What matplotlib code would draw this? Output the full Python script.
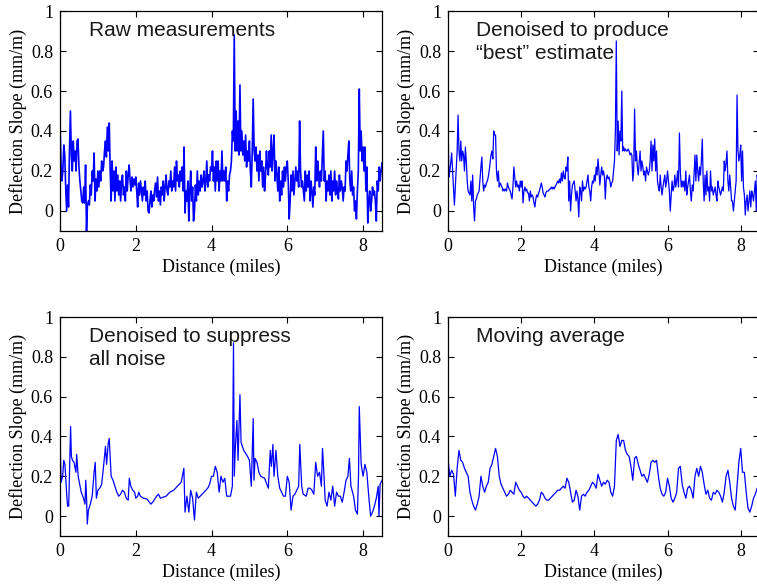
import numpy as np
import matplotlib
matplotlib.use("Agg")
import matplotlib.pyplot as plt

# --- data (deflection slope, mm/m) ---
# raw measurements, every 0.025 mile from 0 to 8.5
raw_slope = [
    0.45, 0.25, 0.15, 0.20, 0.33, 0.28, 0.12, 0.00, 0.13, 0.02, 0.30, 0.50, 0.28, 0.20, 0.35, 0.25, 0.30, 0.20, 0.35, 0.36,
    0.22, 0.15, 0.10, 0.05, 0.04, 0.12, 0.04, 0.23, -0.10, 0.03, 0.05, 0.03, 0.13, 0.08, 0.20, 0.15, 0.29, 0.05, 0.16, 0.10,
    0.20, 0.12, 0.20, 0.15, 0.25, 0.20, 0.22, 0.30, 0.35, 0.27, 0.42, 0.30, 0.44, 0.20, 0.05, 0.25, 0.10, 0.20, 0.05, 0.22,
    0.10, 0.18, 0.08, 0.15, 0.05, 0.15, 0.18, 0.08, 0.12, 0.05, 0.20, 0.10, 0.18, 0.23, 0.15, 0.10, 0.17, 0.12, 0.16, 0.13,
    0.17, 0.10, 0.02, 0.14, 0.08, 0.15, 0.10, 0.05, 0.12, 0.08, 0.15, 0.05, 0.10, 0.00, -0.01, 0.05, 0.10, 0.02, 0.08, 0.05,
    0.11, 0.14, 0.07, 0.17, 0.05, 0.10, 0.03, 0.12, 0.08, 0.15, 0.05, 0.12, 0.18, 0.10, 0.08, 0.15, 0.12, 0.20, 0.10, 0.15,
    0.12, 0.22, 0.10, 0.25, 0.15, 0.18, 0.12, 0.20, 0.15, 0.22, 0.10, 0.32, -0.01, 0.10, 0.05, 0.15, -0.05, 0.10, 0.20, 0.05,
    0.12, -0.05, 0.00, 0.13, 0.05, 0.20, 0.08, 0.15, 0.10, 0.18, 0.12, 0.15, 0.20, 0.10, 0.15, 0.25, 0.12, 0.18, 0.15, 0.22,
    0.20, 0.30, 0.15, 0.22, 0.10, 0.25, 0.15, 0.25, 0.10, 0.20, 0.15, 0.30, 0.15, 0.20, 0.15, 0.22, 0.05, 0.15, 0.10, 0.18,
    0.20, 0.25, 0.40, 0.35, 0.88, 0.30, 0.50, 0.30, 0.45, 0.28, 0.63, 0.30, 0.40, 0.28, 0.35, 0.25, 0.38, 0.22, 0.30, 0.25,
    0.35, 0.20, 0.12, 0.30, 0.56, 0.30, 0.25, 0.32, 0.20, 0.28, 0.15, 0.30, 0.20, 0.25, 0.12, 0.22, 0.10, 0.18, 0.30, 0.22,
    0.18, 0.30, 0.22, 0.38, 0.20, 0.30, 0.38, 0.15, 0.25, 0.18, 0.10, 0.22, 0.05, 0.15, 0.08, 0.20, 0.12, 0.22, 0.15, 0.22,
    0.25, 0.15, -0.04, 0.05, 0.18, 0.10, 0.20, 0.08, 0.15, 0.22, 0.15, 0.20, 0.12, 0.45, 0.20, 0.12, 0.15, 0.10, 0.05, 0.20,
    0.10, 0.18, 0.12, 0.20, 0.05, 0.15, 0.10, 0.02, 0.12, 0.08, 0.32, 0.15, 0.25, 0.18, 0.12, 0.20, 0.15, 0.28, 0.40, 0.15,
    0.20, 0.05, 0.15, 0.10, 0.18, 0.08, 0.20, 0.05, 0.15, 0.10, 0.20, 0.08, 0.15, 0.10, 0.06, 0.18, 0.10, 0.15, 0.12, 0.05,
    0.12, 0.10, 0.25, 0.20, 0.28, 0.35, 0.15, 0.10, 0.20, 0.08, 0.12, 0.00, 0.05, -0.04, 0.10, 0.20, 0.61, 0.30, 0.40, 0.25,
    0.32, 0.20, 0.32, 0.10, 0.22, -0.06, 0.05, 0.10, 0.00, 0.05, 0.12, 0.08, 0.10, 0.05, -0.05, 0.15, 0.10, 0.22, 0.15, 0.20,
    0.24,
]

# "best" estimate, same 0.025 mile spacing
best_slope = [
    0.45, 0.17, 0.20, 0.24, 0.29, 0.20, 0.12, 0.03, 0.12, 0.20, 0.30, 0.48, 0.30, 0.25, 0.35, 0.25, 0.30, 0.28, 0.20, 0.32,
    0.25, 0.15, 0.10, 0.09, 0.08, 0.15, 0.05, 0.18, 0.02, -0.05, 0.05, 0.06, 0.08, 0.09, 0.10, 0.16, 0.22, 0.27, 0.15, 0.10,
    0.13, 0.12, 0.14, 0.15, 0.17, 0.20, 0.24, 0.28, 0.30, 0.26, 0.40, 0.38, 0.38, 0.20, 0.15, 0.20, 0.12, 0.14, 0.13, 0.12,
    0.10, 0.11, 0.10, 0.11, 0.10, 0.14, 0.12, 0.11, 0.10, 0.08, 0.06, 0.12, 0.22, 0.17, 0.12, 0.15, 0.12, 0.13, 0.10, 0.15,
    0.12, 0.15, 0.04, 0.10, 0.12, 0.10, 0.11, 0.09, 0.09, 0.05, 0.10, 0.07, 0.08, 0.07, 0.04, 0.02, 0.06, 0.08, 0.07, 0.09,
    0.10, 0.12, 0.14, 0.12, 0.09, 0.08, 0.07, 0.09, 0.10, 0.10, 0.10, 0.11, 0.11, 0.12, 0.11, 0.12, 0.11, 0.12, 0.13, 0.14,
    0.15, 0.14, 0.16, 0.14, 0.19, 0.15, 0.20, 0.17, 0.16, 0.22, 0.20, 0.27, 0.05, 0.15, 0.00, 0.08, 0.13, 0.14, 0.15, 0.10,
    0.05, 0.10, 0.06, -0.03, 0.12, 0.10, 0.05, 0.15, 0.10, 0.12, 0.11, 0.12, 0.15, 0.18, 0.12, 0.10, 0.05, 0.12, 0.15, 0.14,
    0.18, 0.15, 0.22, 0.18, 0.26, 0.20, 0.13, 0.18, 0.22, 0.18, 0.20, 0.17, 0.06, 0.16, 0.18, 0.16, 0.17, 0.15, 0.12, 0.14,
    0.15, 0.20, 0.25, 0.40, 0.85, 0.30, 0.45, 0.28, 0.40, 0.35, 0.60, 0.30, 0.32, 0.30, 0.31, 0.30, 0.30, 0.31, 0.30, 0.28,
    0.29, 0.28, 0.15, 0.20, 0.51, 0.25, 0.30, 0.22, 0.18, 0.24, 0.30, 0.20, 0.25, 0.22, 0.18, 0.20, 0.15, 0.22, 0.20, 0.18,
    0.20, 0.25, 0.35, 0.20, 0.33, 0.25, 0.36, 0.20, 0.30, 0.15, 0.12, 0.10, 0.18, 0.12, 0.08, 0.12, 0.15, 0.18, 0.12, 0.15,
    0.20, 0.15, 0.10, 0.00, 0.08, 0.15, 0.10, 0.12, 0.18, 0.12, 0.15, 0.20, 0.12, 0.39, 0.20, 0.12, 0.15, 0.12, 0.15, 0.10,
    0.20, 0.08, 0.12, 0.15, 0.18, 0.10, 0.05, 0.13, 0.10, 0.18, 0.28, 0.15, 0.28, 0.20, 0.15, 0.22, 0.18, 0.25, 0.36, 0.15,
    0.05, 0.18, 0.08, 0.20, 0.10, 0.12, 0.05, 0.20, 0.10, 0.12, 0.08, 0.10, 0.12, 0.08, 0.05, 0.15, 0.12, 0.10, 0.08, 0.10,
    0.12, 0.10, 0.25, 0.20, 0.24, 0.30, 0.15, 0.10, 0.18, 0.12, 0.05, 0.05, 0.00, 0.05, 0.10, 0.15, 0.58, 0.30, 0.25, 0.28,
    0.33, 0.15, 0.30, 0.12, 0.08, -0.02, 0.05, 0.08, 0.00, 0.05, 0.10, 0.02, 0.10, 0.08, 0.05, 0.10, 0.15, 0.00, 0.18, 0.15,
    0.20,
]

# denoised to suppress all noise (irregular points where the curve turns)
smooth_miles = [
    0, 0.03, 0.07, 0.10, 0.13, 0.18, 0.20, 0.23, 0.28, 0.30,
    0.33, 0.37, 0.42, 0.44, 0.48, 0.52, 0.56, 0.62, 0.66, 0.68,
    0.70, 0.72, 0.75, 0.80, 0.85, 0.90, 0.93, 0.96, 1.00, 1.05,
    1.10, 1.15, 1.20, 1.23, 1.27, 1.30, 1.35, 1.40, 1.45, 1.50,
    1.55, 1.60, 1.65, 1.70, 1.75, 1.80, 1.83, 1.87, 1.92, 1.97,
    2.00, 2.05, 2.08, 2.12, 2.20, 2.30, 2.40, 2.45, 2.55, 2.60,
    2.65, 2.80, 2.90, 3.00, 3.10, 3.20, 3.27, 3.30, 3.35, 3.40,
    3.45, 3.50, 3.55, 3.57, 3.60, 3.65, 3.70, 3.80, 3.90, 3.95,
    4.00, 4.05, 4.10, 4.15, 4.20, 4.25, 4.30, 4.35, 4.40, 4.50,
    4.55, 4.58, 4.60, 4.63, 4.67, 4.70, 4.75, 4.78, 4.85, 4.95,
    5.00, 5.05, 5.10, 5.12, 5.15, 5.20, 5.25, 5.30, 5.40, 5.50,
    5.55, 5.58, 5.62, 5.65, 5.70, 5.75, 5.80, 5.85, 5.90, 5.95,
    6.00, 6.05, 6.10, 6.15, 6.20, 6.25, 6.30, 6.33, 6.38, 6.42,
    6.50, 6.55, 6.60, 6.65, 6.70, 6.75, 6.80, 6.85, 6.90, 6.93,
    6.97, 7.00, 7.05, 7.10, 7.15, 7.20, 7.25, 7.30, 7.35, 7.40,
    7.45, 7.50, 7.55, 7.60, 7.64, 7.68, 7.75, 7.80, 7.85, 7.88,
    7.90, 7.95, 8.00, 8.05, 8.10, 8.15, 8.20, 8.25, 8.30, 8.35,
    8.40, 8.42, 8.45, 8.50,
]
smooth_slope = [
    0.40, 0.17, 0.20, 0.28, 0.26, 0.10, 0.05, 0.05, 0.45, 0.30,
    0.28, 0.27, 0.22, 0.31, 0.20, 0.16, 0.12, 0.09, 0.06, 0.18,
    0.10, -0.04, 0.03, 0.06, 0.10, 0.22, 0.27, 0.09, 0.13, 0.14,
    0.16, 0.25, 0.35, 0.26, 0.36, 0.39, 0.20, 0.18, 0.15, 0.12,
    0.10, 0.11, 0.13, 0.12, 0.09, 0.08, 0.19, 0.15, 0.13, 0.12,
    0.09, 0.10, 0.12, 0.10, 0.09, 0.085, 0.06, 0.07, 0.10, 0.11,
    0.09, 0.10, 0.12, 0.13, 0.15, 0.17, 0.24, 0.02, 0.10, 0.02,
    0.13, 0.09, -0.02, 0.04, 0.12, 0.09, 0.10, 0.12, 0.14, 0.16,
    0.20, 0.20, 0.25, 0.22, 0.12, 0.20, 0.17, 0.19, 0.10, 0.10,
    0.15, 0.87, 0.20, 0.35, 0.48, 0.28, 0.61, 0.37, 0.33, 0.30,
    0.28, 0.15, 0.49, 0.18, 0.29, 0.27, 0.22, 0.20, 0.19, 0.14,
    0.33, 0.25, 0.36, 0.20, 0.33, 0.20, 0.14, 0.12, 0.10, 0.10,
    0.20, 0.17, 0.03, 0.10, 0.11, 0.13, 0.15, 0.36, 0.15, 0.11,
    0.10, 0.14, 0.14, 0.13, 0.11, 0.27, 0.20, 0.22, 0.15, 0.34,
    0.20, 0.08, 0.05, 0.12, 0.08, 0.15, 0.05, 0.12, 0.10, 0.10,
    0.07, 0.12, 0.18, 0.20, 0.29, 0.15, 0.10, 0.03, 0.01, 0.20,
    0.55, 0.26, 0.20, 0.26, 0.22, 0.10, 0.00, 0.02, 0.05, 0.09,
    0.15, 0.00, 0.16, 0.18,
]

# moving average, every 0.05 mile from 0 to 8.5
avg_slope = [
    0.29, 0.20, 0.23, 0.21, 0.10, 0.24, 0.33, 0.28, 0.27, 0.24,
    0.22, 0.20, 0.12, 0.08, 0.05, 0.03, 0.06, 0.10, 0.20, 0.15,
    0.12, 0.15, 0.17, 0.24, 0.26, 0.30, 0.34, 0.30, 0.20, 0.16,
    0.14, 0.12, 0.10, 0.11, 0.13, 0.12, 0.11, 0.17, 0.15, 0.13,
    0.12, 0.10, 0.09, 0.10, 0.09, 0.08, 0.07, 0.06, 0.05, 0.06,
    0.08, 0.12, 0.11, 0.09, 0.08, 0.08, 0.09, 0.10, 0.11, 0.12,
    0.13, 0.13, 0.14, 0.15, 0.14, 0.19, 0.17, 0.12, 0.07, 0.08,
    0.13, 0.10, 0.03, 0.10, 0.11, 0.10, 0.12, 0.13, 0.15, 0.17,
    0.16, 0.14, 0.21, 0.18, 0.15, 0.17, 0.16, 0.18, 0.17, 0.12,
    0.10, 0.15, 0.38, 0.41, 0.35, 0.38, 0.38, 0.33, 0.31, 0.30,
    0.25, 0.18, 0.29, 0.30, 0.26, 0.23, 0.20, 0.21, 0.19, 0.17,
    0.21, 0.27, 0.28, 0.27, 0.28, 0.20, 0.14, 0.11, 0.10, 0.12,
    0.19, 0.15, 0.09, 0.07, 0.09, 0.12, 0.24, 0.25, 0.16, 0.12,
    0.09, 0.14, 0.15, 0.13, 0.09, 0.20, 0.24, 0.20, 0.25, 0.22,
    0.16, 0.11, 0.13, 0.09, 0.08, 0.12, 0.11, 0.13, 0.12, 0.10,
    0.07, 0.12, 0.20, 0.23, 0.17, 0.09, 0.05, 0.03, 0.15, 0.27,
    0.34, 0.22, 0.22, 0.12, 0.04, 0.02, 0.05, 0.09, 0.11, 0.14,
    0.13,
]

titles = ["Raw measurements", "Denoised to produce\n\u201cbest\u201d estimate",
          "Denoised to suppress\nall noise", "Moving average"]

raw_miles = np.linspace(0, 8.5, len(raw_slope))
best_miles = np.linspace(0, 8.5, len(best_slope))
avg_miles = np.linspace(0, 8.5, len(avg_slope))

series = [
    (raw_miles, raw_slope, 1.2),
    (best_miles, best_slope, 0.9),
    (smooth_miles, smooth_slope, 0.9),
    (avg_miles, avg_slope, 0.9),
]

fig = plt.figure(figsize=(7.57, 5.85), dpi=100)
W, H = 757.0, 585.0
# axes boxes in pixels: left, top, width, height
boxes = [(60, 11, 322, 220), (448, 11, 311, 220),
         (60, 317, 322, 219), (448, 317, 311, 219)]

serif = ["Liberation Serif", "DejaVu Serif"]
for (l, t, w, h), (xs, ys, lw), title in zip(boxes, series, titles):
    ax = fig.add_axes([l / W, 1 - (t + h) / H, w / W, h / H])
    ax.plot(xs, ys, color="#0000ff", lw=lw)
    ax.set_xlim(0, 8.5)
    ax.set_ylim(-0.1, 1)
    ax.set_xticks([0, 2, 4, 6, 8])
    ax.set_yticks([0, 0.2, 0.4, 0.6, 0.8, 1])
    ax.set_yticklabels(["0", "0.2", "0.4", "0.6", "0.8", "1"])
    ax.tick_params(direction="in", top=True, right=True, length=4, width=0.8,
                   labelsize=13, pad=5)
    for lab in ax.get_xticklabels() + ax.get_yticklabels():
        lab.set_family(serif)
    for sp in ax.spines.values():
        sp.set_linewidth(0.9)
    ax.set_xlabel("Distance (miles)", family=serif, fontsize=13, labelpad=3)
    ax.set_ylabel("Deflection Slope (mm/m)", family=serif, fontsize=13, labelpad=3)
    ax.text(0.09, 0.955, title, transform=ax.transAxes, ha="left", va="top",
            family=["Liberation Sans", "DejaVu Sans"], fontsize=15,
            color="#1a1a1a", linespacing=1.25)

fig.savefig("out.png", dpi=100)
